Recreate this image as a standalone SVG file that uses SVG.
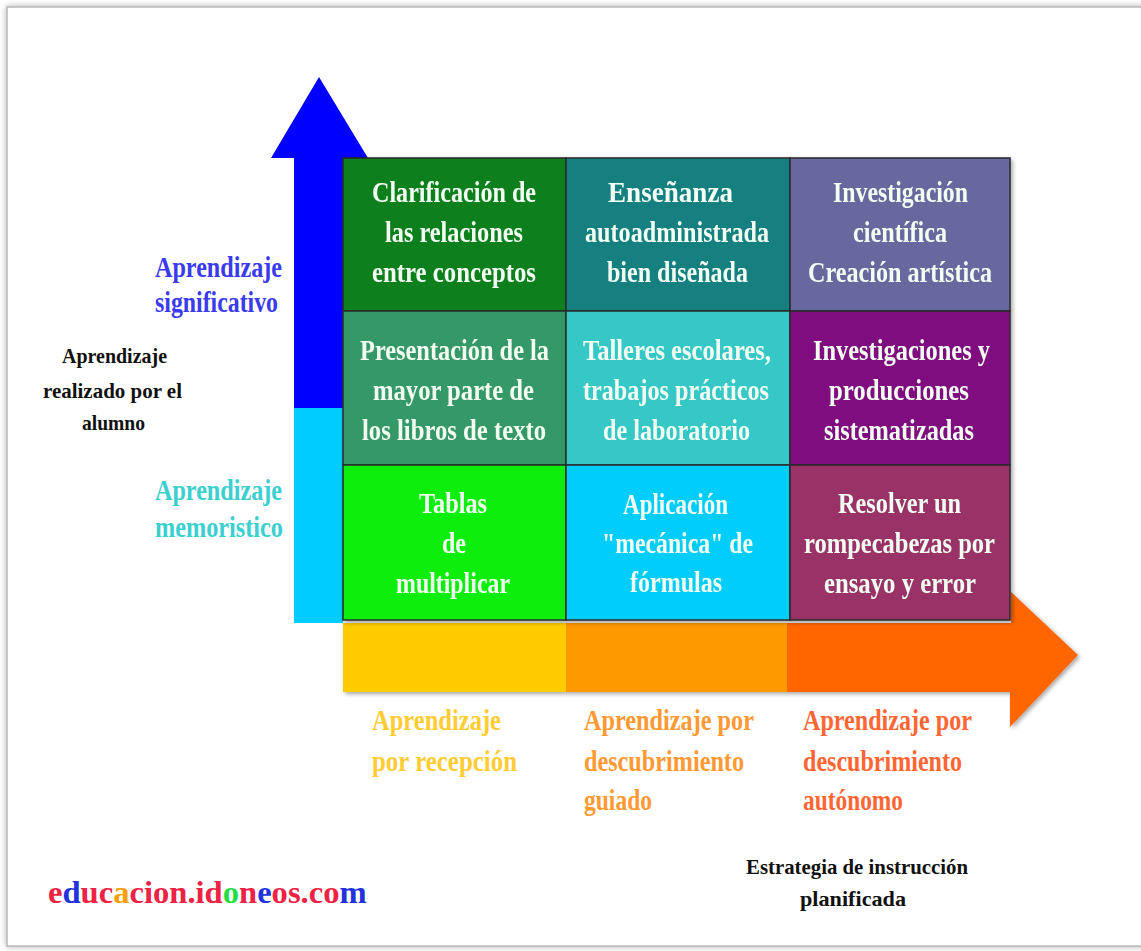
<svg xmlns="http://www.w3.org/2000/svg" width="1141" height="951" viewBox="0 0 1141 951">
<defs>
<filter id="sh" x="-5%" y="-5%" width="110%" height="110%">
<feDropShadow dx="2" dy="2" stdDeviation="2" flood-color="#000" flood-opacity="0.35"/>
</filter>
<filter id="fr" x="-2%" y="-2%" width="104%" height="104%">
<feDropShadow dx="0" dy="0" stdDeviation="3" flood-color="#000" flood-opacity="0.3"/>
</filter>
</defs>
<style>
.c{stroke:#2a2a2a;stroke-width:1.5}
.t{font-family:"Liberation Serif",serif;font-weight:bold;font-size:30px;fill:#f4fff4}
.l{font-family:"Liberation Serif",serif;font-weight:bold;font-size:29px}
.s{font-family:"Liberation Serif",serif;font-weight:bold;font-size:21px;fill:#111}
</style>
<rect x="0" y="0" width="1141" height="951" fill="#ffffff"/>
<rect id="frame" x="7" y="7" width="1145" height="939" fill="#ffffff" stroke="#b8b8b8" stroke-width="1.5" filter="url(#fr)"/>

<g id="axes">
<path id="vertical-axis-top" d="M319,77 L368,158 L343,158 L343,408 L294,408 L294,158 L271,158 Z" fill="#0000ff"/>
<rect id="vertical-axis-bottom" x="294" y="408" width="49" height="215" fill="#00ccff"/>
<g id="horizontal-axis" filter="url(#sh)">
<rect x="343" y="623" width="224" height="69" fill="#ffcc00"/>
<rect x="566" y="623" width="222" height="69" fill="#ff9900"/>
<path d="M787,623 L1011,623 L1011,592 L1078,655 L1010,727 L1010,692 L787,692 Z" fill="#ff6600"/>
</g>
</g>

<g id="grid" filter="url(#sh)">
<g id="cell-r1c1"><rect class="c" x="343" y="158" width="223" height="153" fill="#0f7f1f"/>
<text class="t" x="372" y="202" textLength="164" lengthAdjust="spacingAndGlyphs">Clarificación de</text>
<text class="t" x="385" y="242" textLength="138" lengthAdjust="spacingAndGlyphs">las relaciones</text>
<text class="t" x="372" y="282" textLength="164" lengthAdjust="spacingAndGlyphs">entre conceptos</text></g>
<g id="cell-r1c2"><rect class="c" x="566" y="158" width="224" height="153" fill="#128080"/>
<text class="t" x="608" y="202" textLength="125" lengthAdjust="spacingAndGlyphs">Enseñanza</text>
<text class="t" x="585" y="242" textLength="184" lengthAdjust="spacingAndGlyphs">autoadministrada</text>
<text class="t" x="607" y="282" textLength="141" lengthAdjust="spacingAndGlyphs">bien diseñada</text></g>
<g id="cell-r1c3"><rect class="c" x="790" y="158" width="220" height="153" fill="#68689e"/>
<text class="t" x="833" y="202" textLength="135" lengthAdjust="spacingAndGlyphs">Investigación</text>
<text class="t" x="853" y="242" textLength="94" lengthAdjust="spacingAndGlyphs">científica</text>
<text class="t" x="808" y="282" textLength="184" lengthAdjust="spacingAndGlyphs">Creación artística</text></g>

<g id="cell-r2c1"><rect class="c" x="343" y="311" width="223" height="154" fill="#359867"/>
<text class="t" x="360" y="360" textLength="189" lengthAdjust="spacingAndGlyphs">Presentación de la</text>
<text class="t" x="373" y="400" textLength="161" lengthAdjust="spacingAndGlyphs">mayor parte de</text>
<text class="t" x="362" y="440" textLength="184" lengthAdjust="spacingAndGlyphs">los libros de texto</text></g>
<g id="cell-r2c2"><rect class="c" x="566" y="311" width="224" height="154" fill="#36c8c6"/>
<text class="t" x="583" y="360" textLength="188" lengthAdjust="spacingAndGlyphs">Talleres escolares,</text>
<text class="t" x="583" y="400" textLength="186" lengthAdjust="spacingAndGlyphs">trabajos prácticos</text>
<text class="t" x="603" y="440" textLength="147" lengthAdjust="spacingAndGlyphs">de laboratorio</text></g>
<g id="cell-r2c3"><rect class="c" x="790" y="311" width="220" height="154" fill="#7f0f7f"/>
<text class="t" x="813" y="360" textLength="177" lengthAdjust="spacingAndGlyphs">Investigaciones y</text>
<text class="t" x="829" y="400" textLength="140" lengthAdjust="spacingAndGlyphs">producciones</text>
<text class="t" x="824" y="440" textLength="150" lengthAdjust="spacingAndGlyphs">sistematizadas</text></g>

<g id="cell-r3c1"><rect class="c" x="343" y="465" width="223" height="155" fill="#11ee11"/>
<text class="t" x="419" y="513" textLength="68" lengthAdjust="spacingAndGlyphs">Tablas</text>
<text class="t" x="442" y="553" textLength="24" lengthAdjust="spacingAndGlyphs">de</text>
<text class="t" x="396" y="593" textLength="114" lengthAdjust="spacingAndGlyphs">multiplicar</text></g>
<g id="cell-r3c2"><rect class="c" x="566" y="465" width="224" height="155" fill="#05cdfa"/>
<text class="t" x="623" y="514" textLength="105" lengthAdjust="spacingAndGlyphs">Aplicación</text>
<text class="t" x="602" y="553" textLength="151" lengthAdjust="spacingAndGlyphs">"mecánica" de</text>
<text class="t" x="630" y="592" textLength="92" lengthAdjust="spacingAndGlyphs">fórmulas</text></g>
<g id="cell-r3c3"><rect class="c" x="790" y="465" width="220" height="155" fill="#993366"/>
<text class="t" x="838" y="513" textLength="123" lengthAdjust="spacingAndGlyphs">Resolver un</text>
<text class="t" x="804" y="553" textLength="191" lengthAdjust="spacingAndGlyphs">rompecabezas por</text>
<text class="t" x="824" y="593" textLength="152" lengthAdjust="spacingAndGlyphs">ensayo y error</text></g>
</g>

<g id="label-significativo" class="l" fill="#3a3aee">
<text x="155" y="277" textLength="127" lengthAdjust="spacingAndGlyphs">Aprendizaje</text>
<text x="155" y="312" textLength="123" lengthAdjust="spacingAndGlyphs">significativo</text>
</g>
<g id="label-alumno" class="s">
<text x="62" y="363" textLength="105" lengthAdjust="spacingAndGlyphs">Aprendizaje</text>
<text x="43" y="398" textLength="139" lengthAdjust="spacingAndGlyphs">realizado por el</text>
<text x="82" y="430" textLength="63" lengthAdjust="spacingAndGlyphs">alumno</text>
</g>
<g id="label-memoristico" class="l" fill="#3ccfcf">
<text x="155" y="500" textLength="127" lengthAdjust="spacingAndGlyphs">Aprendizaje</text>
<text x="155" y="537" textLength="128" lengthAdjust="spacingAndGlyphs">memoristico</text>
</g>

<g id="label-recepcion" class="l" fill="#ffcc33">
<text x="372" y="730" textLength="129" lengthAdjust="spacingAndGlyphs">Aprendizaje</text>
<text x="372" y="771" textLength="145" lengthAdjust="spacingAndGlyphs">por recepción</text>
</g>
<g id="label-guiado" class="l" fill="#ff9933">
<text x="584" y="730" textLength="170" lengthAdjust="spacingAndGlyphs">Aprendizaje por</text>
<text x="584" y="771" textLength="160" lengthAdjust="spacingAndGlyphs">descubrimiento</text>
<text x="584" y="810" textLength="68" lengthAdjust="spacingAndGlyphs">guiado</text>
</g>
<g id="label-autonomo" class="l" fill="#ff6633">
<text x="803" y="730" textLength="169" lengthAdjust="spacingAndGlyphs">Aprendizaje por</text>
<text x="803" y="771" textLength="159" lengthAdjust="spacingAndGlyphs">descubrimiento</text>
<text x="803" y="810" textLength="100" lengthAdjust="spacingAndGlyphs">autónomo</text>
</g>

<g id="label-estrategia" class="s">
<text x="746" y="874" textLength="222" lengthAdjust="spacingAndGlyphs">Estrategia de instrucción</text>
<text x="800" y="906" textLength="106" lengthAdjust="spacingAndGlyphs">planificada</text>
</g>

<g id="watermark">
<text x="48" y="903" font-family="Liberation Serif, serif" font-weight="bold" font-size="32.6" fill="#ee2244">e<tspan fill="#2233dd">d</tspan>uc<tspan fill="#f5a000">a</tspan>cion.id<tspan fill="#22dd44">o</tspan>n<tspan fill="#2233dd">e</tspan>os.co<tspan fill="#2233dd">m</tspan></text>
</g>
</svg>
